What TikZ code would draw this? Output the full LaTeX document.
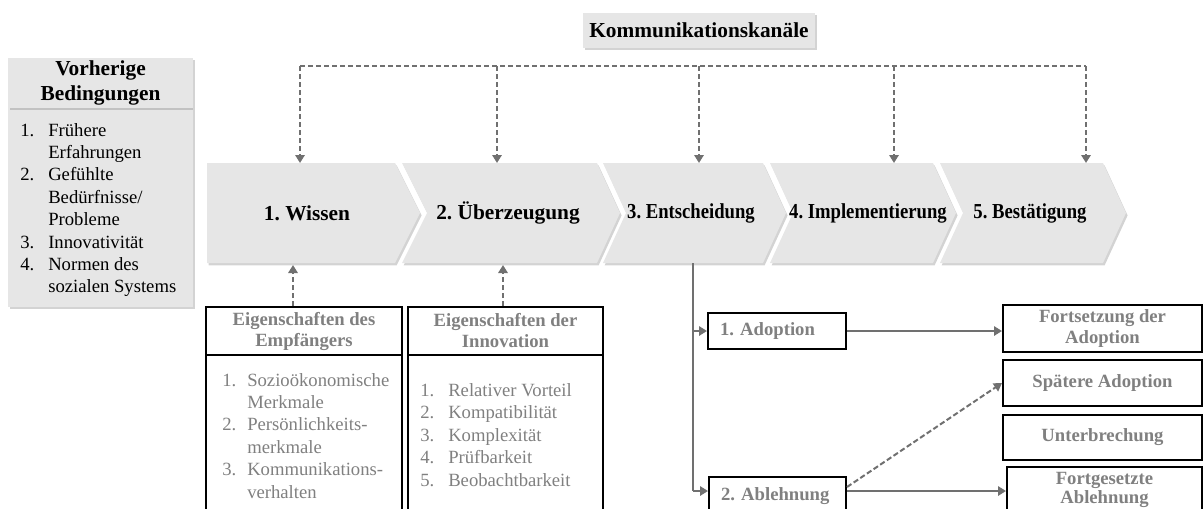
\documentclass[tikz,border=0pt]{standalone}
\usepackage{graphicx}
\usepackage{fontspec}
\setmainfont{Liberation Serif}
\usetikzlibrary{arrows.meta,shadows}
\definecolor{chevfill}{HTML}{E6E6E6}
\definecolor{lgray}{HTML}{808080}
\definecolor{agray}{HTML}{707070}
\frenchspacing
\begin{document}
\begin{tikzpicture}[x=0.75pt,y=-0.75pt,
  shad/.style={drop shadow={shadow xshift=1.2pt,shadow yshift=-1.8pt,opacity=0.35}},
  chev/.style={fill=chevfill, shad},
  chevtext/.style={font=\fontsize{16}{19}\selectfont\bfseries, inner sep=0},
  graybox/.style={fill=chevfill, inner sep=0, shad},
  outbox/.style={draw=black, line width=1.5pt, fill=white, inner sep=0},
  hdrtext/.style={font=\fontsize{14}{15.75}\selectfont\bfseries, text=lgray, align=center},
  listfont/.style={font=\fontsize{14}{16.8}\selectfont, inner sep=0},
  dasharrow/.style={draw=agray, line width=1.5pt, dash pattern=on 4pt off 2pt, -{Triangle[length=6pt,width=7pt]}},
  dashline/.style={draw=agray, line width=1.5pt, dash pattern=on 4pt off 2pt},
  solidarrow/.style={draw=agray, line width=1.5pt, -{Triangle[length=6pt,width=7pt]}},
  solidline/.style={draw=agray, line width=1.5pt}
]
\useasboundingbox (0,0) rectangle (1204,508);
\clip (0,0) rectangle (1204,508);

% chevrons
\path[chev] (207,163) -- (395,163) -- (420,213) -- (395,263) -- (207,263) -- cycle;
\path[chev] (402,163) -- (597,163) -- (620,213) -- (597,263) -- (402,263) -- (427,213) -- cycle;
\path[chev] (603,163) -- (763,163) -- (786,213) -- (763,263) -- (603,263) -- (626,213) -- cycle;
\path[chev] (770,163) -- (933,163) -- (956,213) -- (933,263) -- (770,263) -- (793,213) -- cycle;
\path[chev] (940,163) -- (1103,163) -- (1126,213) -- (1103,263) -- (940,263) -- (963,213) -- cycle;

\node[chevtext] (s1) at (307,213) {1. Wissen};
\node[chevtext] (s2) at (508,213) {2. Überzeugung};
\node[chevtext] (s3) at (691,213) {\scalebox{0.875}[1]{3. Entscheidung}};
\node[chevtext] (s4) at (868,213) {\scalebox{0.875}[1]{4. Implementierung}};
\node[chevtext] (s5) at (1030,213) {\scalebox{0.875}[1]{5. Bestätigung}};

% communication channels
\node[graybox, minimum width=174pt, minimum height=26.25pt, font=\fontsize{16}{19}\selectfont\bfseries] (kk) at (699,30.5) {Kommunikationskanäle};

\coordinate (h1) at (300,66);
\coordinate (h2) at (497,66);
\coordinate (h3) at (699,66);
\coordinate (h4) at (894,66);
\coordinate (h5) at (1086,66);
\coordinate (t1) at (300,163);
\coordinate (t2) at (497,163);
\coordinate (t3) at (699,163);
\coordinate (t4) at (894,163);
\coordinate (t5) at (1086,163);
\draw[dashline] (h1) -- (h5);
\foreach \i in {1,...,5} {\draw[dasharrow] (h\i) -- (t\i);}

% prior conditions
\node[graybox, minimum width=138.75pt, minimum height=149.25pt] (pb) at (100.5,207.5) {};
\node[graybox, minimum width=138.75pt, minimum height=37.5pt, font=\fontsize{16}{18.75}\selectfont\bfseries, align=center] (ph) at (100.5,83) {Vorherige\\Bedingungen};
\node[listfont, anchor=base west] (pl) at (20,136) {\begin{tabular}[t]{@{}p{21pt}@{}l@{}}
1.&Frühere\\&Erfahrungen\\2.&Gefühlte\\&Bedürfnisse/\\&Probleme\\3.&Innovativität\\4.&Normen des\\&sozialen Systems
\end{tabular}};

% receiver characteristics
\node[outbox, minimum width=147pt, minimum height=127.5pt] (eb) at (304,440) {};
\node[outbox, minimum width=147pt, minimum height=36pt, hdrtext] (eh) at (304,331) {Eigenschaften des\\Empfängers};
\node[listfont, anchor=base west, text=lgray] (el) at (222,386) {\begin{tabular}[t]{@{}p{18.75pt}@{}l@{}}
1.&Sozioökonomische\\&Merkmale\\2.&Persönlichkeits-\\&merkmale\\3.&Kommunikations-\\&verhalten
\end{tabular}};

% innovation characteristics
\node[outbox, minimum width=146.25pt, minimum height=127.5pt] (ib) at (505.5,440) {};
\node[outbox, minimum width=146.25pt, minimum height=36pt, hdrtext] (ih) at (505.5,331) {Eigenschaften der\\Innovation};
\node[listfont, anchor=base west, text=lgray, font=\fontsize{14}{16.9}\selectfont] (il) at (420,396) {\begin{tabular}[t]{@{}p{21pt}@{}l@{}}
1.&Relativer Vorteil\\2.&Kompatibilität\\3.&Komplexität\\4.&Prüfbarkeit\\5.&Beobachtbarkeit
\end{tabular}};

\coordinate (u1) at (293,265);
\coordinate (u2) at (503,265);
\draw[dasharrow] (eh.north -| u1) -- (u1);
\draw[dasharrow] (ih.north -| u2) -- (u2);

% decision outcomes
\node[outbox, minimum width=103.5pt, minimum height=27pt, text width=85.5pt, inner xsep=9pt, align=left, font=\fontsize{14}{16}\selectfont\bfseries, text=lgray] (ad) at (777,331) {1. Adoption};
\node[outbox, minimum width=102.75pt, minimum height=28.5pt, text width=84.75pt, inner xsep=9pt, align=left, font=\fontsize{14}{16}\selectfont\bfseries, text=lgray] (ab) at (777.5,496) {2. Ablehnung};

\node[outbox, minimum width=149.25pt, minimum height=35.25pt, hdrtext] (fa) at (1102.5,328.5) {Fortsetzung der\\Adoption};
\node[outbox, minimum width=149.25pt, minimum height=34.5pt, hdrtext] (sa) at (1102.5,383) {Spätere Adoption};
\node[outbox, minimum width=149.25pt, minimum height=33.75pt, hdrtext] (ub) at (1102.5,437.5) {Unterbrechung};
\node[outbox, minimum width=146.25pt, minimum height=34.5pt, hdrtext, font=\fontsize{14}{14.5}\selectfont\bfseries] (fg) at (1104.5,490) {Fortgesetzte\\Ablehnung};

\coordinate (d0) at (693,263);
\coordinate (d2) at (693,491);
\coordinate (ya) at (0,491);
\coordinate (yb) at (0,487);
\draw[solidline] (d0) -- (d2);
\draw[solidarrow] (d0 |- ad.west) -- (ad.west);
\draw[solidarrow] (d2) -- (ab.west |- ya);
\draw[solidarrow] (ad.east) -- (fa.west |- ad.east);
\draw[solidarrow] (ab.east |- ya) -- (fg.west |- ya);
\draw[dasharrow] (ab.east |- yb) -- (sa.west);
\end{tikzpicture}
\end{document}
